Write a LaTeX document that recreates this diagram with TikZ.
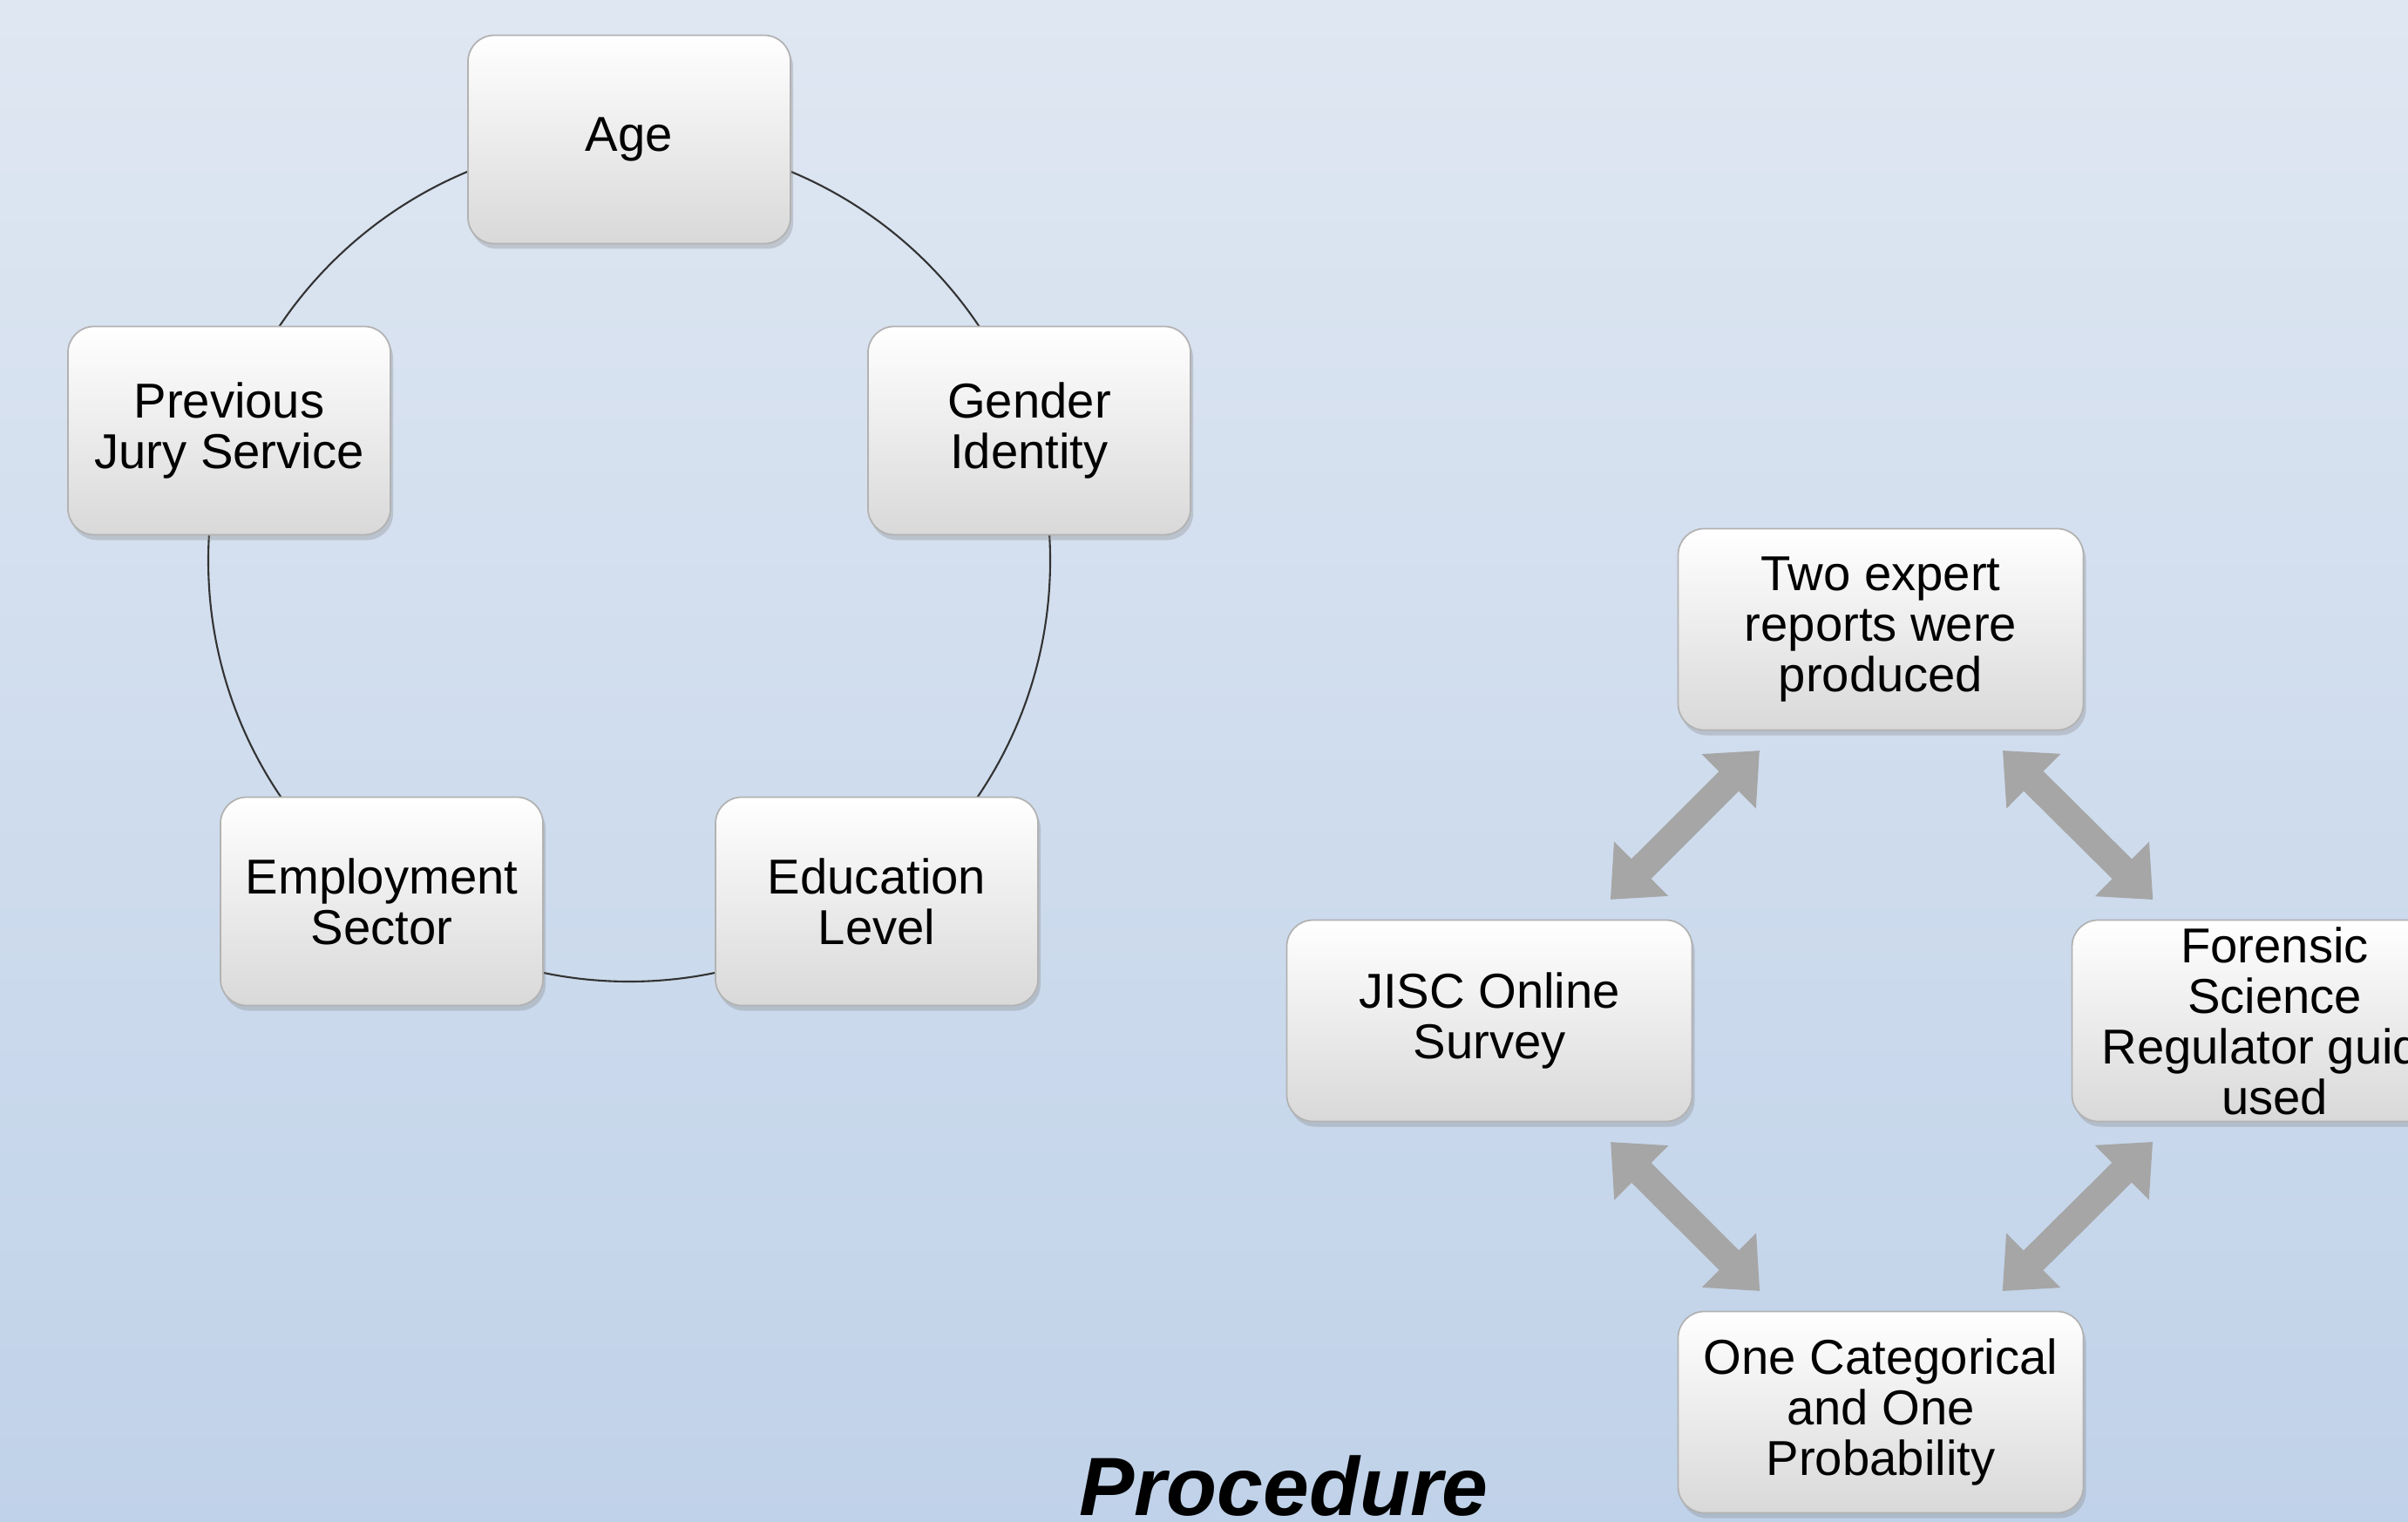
\documentclass[tikz,border=0pt]{standalone}
\usepackage{fontspec}
\setmainfont{Liberation Sans}
\usetikzlibrary{shadows,arrows.meta}

\definecolor{bgtop}{RGB}{223,231,242}
\definecolor{bgbottom}{RGB}{192,210,233}
\definecolor{arrowgray}{RGB}{166,166,166}

\tikzset{
  pill/.style={rectangle, rounded corners=0.3cm, draw=gray!60, line width=0.5pt,
    top color=white, bottom color=gray!30, align=center, inner sep=2pt,
    minimum width=3.7cm, minimum height=2.39cm,
    font=\fontsize{16}{16.5}\selectfont,
    drop shadow={opacity=0.3, shadow xshift=0.03cm, shadow yshift=-0.06cm}},
  widepill/.style={pill, minimum width=4.65cm, minimum height=2.31cm},
  flow/.style={draw=arrowgray, line width=0.32cm, shorten <=0.32cm, shorten >=0.32cm,
    {Triangle[width=0.85cm,length=0.5cm]}-{Triangle[width=0.85cm,length=0.5cm]}}
}

\begin{document}
\begin{tikzpicture}
    \useasboundingbox (0,0) rectangle (27.63,17.45);
    \clip (0,0) rectangle (27.63,17.45);
    \fill [top color=bgtop, bottom color=bgbottom] (0,0) rectangle (27.63,17.45);

    \coordinate (hub) at (7.22,11.02);
    \draw [black!80, line width=0.6pt] (hub) circle (4.83);
    \node [pill] (age) at (7.22,15.85) {Age};
    \node [pill] (gender) at (11.81,12.51) {Gender\\Identity};
    \node [pill] (education) at (10.06,7.11) {Education\\Level};
    \node [pill] (employment) at (4.38,7.11) {Employment\\Sector};
    \node [pill] (jury) at (2.63,12.51) {Previous\\Jury Service};

    \node [widepill] (reports) at (21.58,10.23) {Two expert\\reports were\\produced};
    \node [widepill] (survey) at (17.09,5.74) {JISC Online\\Survey};
    \node [widepill] (guide) at (26.10,5.74) {Forensic\\Science\\Regulator guide\\used};
    \node [widepill] (measures) at (21.58,1.25) {One Categorical\\and One\\Probability};
    \draw [flow] (reports) -- (survey);
    \draw [flow] (reports) -- (guide);
    \draw [flow] (survey) -- (measures);
    \draw [flow] (guide) -- (measures);

    \node [anchor=base, font=\fontsize{27}{29}\selectfont\bfseries\itshape] (title) at (14.73,0.07) {Procedure};
\end{tikzpicture}
\end{document}
